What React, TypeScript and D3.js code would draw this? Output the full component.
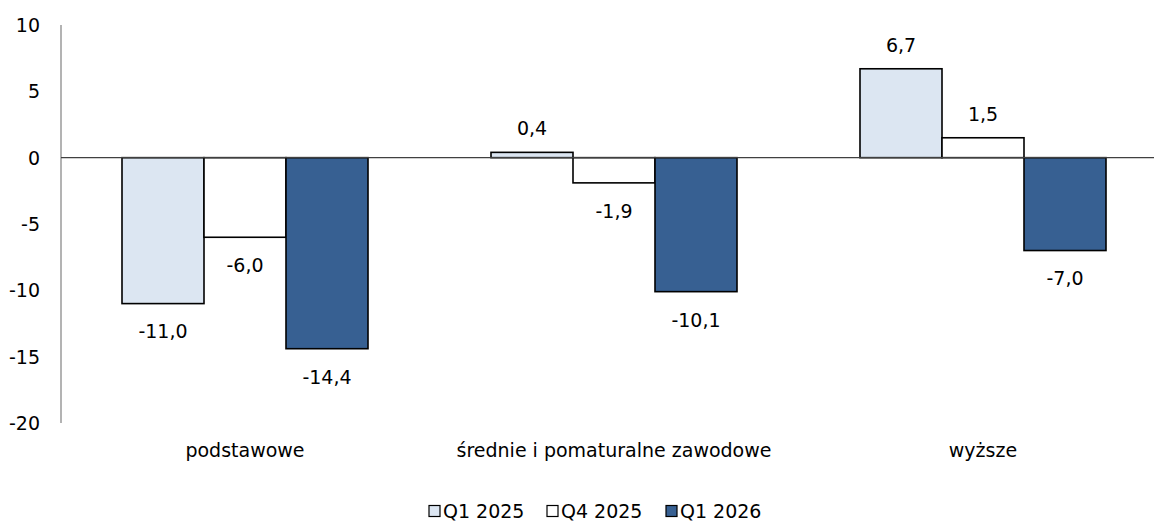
import React from "react";
import * as d3 from "d3";

const categories = ["podstawowe", "średnie i pomaturalne zawodowe", "wyższe"];
const seriesNames = ["Q1 2025", "Q4 2025", "Q1 2026"];
const q1_2025 = [-11.0, 0.4, 6.7];
const q4_2025 = [-6.0, -1.9, 1.5];
const q1_2026 = [-14.4, -10.1, -7.0];
const seriesValues = [q1_2025, q4_2025, q1_2026];
const seriesColors = ["#DCE6F2", "#FFFFFF", "#376092"];
const yTicks = [10, 5, 0, -5, -10, -15, -20];

const W = 1154;
const H = 522;
const FONT = "'DejaVu Sans', Verdana, sans-serif";
const FS = 19;

const fmt = (v: number) => v.toFixed(1).replace(".", ",");

export default function App() {
  const axisX = 61;
  const x = d3.scaleBand<string>().domain(categories).range([60.5, 1167.5]).padding(0);
  const inner = d3
    .scaleBand<string>()
    .domain(seriesNames)
    .range([x.bandwidth() / 6, (x.bandwidth() * 5) / 6])
    .padding(0);
  const y = d3.scaleLinear().domain([-20, 10]).range([423, 25]);

  const legendX = [429, 547, 666];

  return (
    <svg
      width={W}
      height={H}
      style={{ position: "absolute", left: 0, top: 0, display: "block", fontFamily: FONT }}
    >
      <rect width={W} height={H} fill="#fff" />
      {/* y axis */}
      <line x1={axisX} x2={axisX} y1={y(10)} y2={y(-20)} stroke="#808080" strokeWidth={1.2} />
      {yTicks.map((t) => (
        <text key={t} x={40} y={y(t)} dy="0.36em" textAnchor="end" fontSize={FS} fill="#000">
          {t}
        </text>
      ))}
      {/* bars */}
      {categories.map((c, ci) =>
        seriesNames.map((s, si) => {
          const v = seriesValues[si][ci];
          const bx = (x(c) ?? 0) + (inner(s) ?? 0);
          const top = Math.min(y(v), y(0));
          const h = Math.abs(y(v) - y(0));
          return (
            <g key={c + s}>
              <rect
                x={bx}
                y={top}
                width={inner.bandwidth()}
                height={h}
                fill={seriesColors[si]}
                stroke="#000"
                strokeWidth={1.6}
              />
              <text
                x={bx + inner.bandwidth() / 2}
                y={v >= 0 ? y(v) - 24 : y(v) + 28}
                dy="0.36em"
                textAnchor="middle"
                fontSize={FS}
                fill="#000"
              >
                {fmt(v)}
              </text>
            </g>
          );
        })
      )}
      {/* zero line */}
      <line x1={axisX} x2={W} y1={y(0)} y2={y(0)} stroke="#404040" strokeWidth={1.2} />
      {/* category labels */}
      {categories.map((c) => (
        <text
          key={c}
          x={(x(c) ?? 0) + x.bandwidth() / 2}
          y={450}
          dy="0.36em"
          textAnchor="middle"
          fontSize={FS}
          fill="#000"
        >
          {c}
        </text>
      ))}
      {/* legend */}
      {seriesNames.map((s, i) => (
        <g key={s} transform={`translate(${legendX[i]},511)`}>
          <rect x={0} y={-5.5} width={11} height={11} fill={seriesColors[i]} stroke="#000" strokeWidth={1.2} />
          <text x={14} y={0} dy="0.36em" fontSize={FS} fill="#000">
            {s}
          </text>
        </g>
      ))}
    </svg>
  );
}
